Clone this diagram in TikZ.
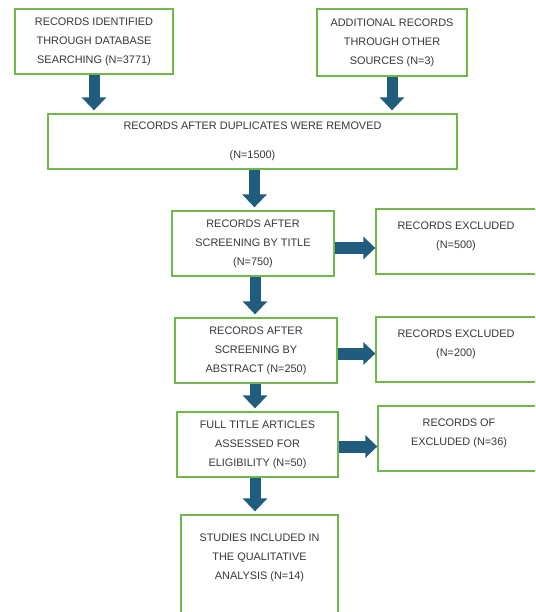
\documentclass[tikz,border=0pt]{standalone}
\usepackage{fontspec}
\setmainfont{Liberation Sans}
\usetikzlibrary{arrows.meta}
\definecolor{boxgreen}{HTML}{70B84A}
\definecolor{arrowblue}{HTML}{1F5C7E}
\definecolor{txtgray}{HTML}{383838}
\tikzset{
  box/.style={draw=boxgreen, line width=1.3pt, fill=white, rectangle, inner sep=0pt,
    align=center, text=txtgray, font=\fontsize{10.9}{19}\selectfont},
  lbl/.style={align=center, text=txtgray, inner sep=0pt, font=\fontsize{10.9}{19}\selectfont},
  downarrow/.style={draw=arrowblue, line width=11pt,
    -{Triangle[width=24pt,length=13pt]}, shorten >=3pt},
  rightarrow/.style={draw=arrowblue, line width=12pt,
    -{Triangle[width=22pt,length=12pt]}},
}
\begin{document}
\begin{tikzpicture}[x=1pt,y=-1pt]
\path[use as bounding box, clip] (0,0) rectangle (535,612);
\fill[white] (0,0) rectangle (535,612);

\node[box, minimum width=158pt, minimum height=65pt] (b1) at (94,41.5)
  {RECORDS IDENTIFIED\\THROUGH DATABASE\\SEARCHING (N=3771)};
\node[box, minimum width=150pt, minimum height=67pt] (b2) at (392,42.5)
  {ADDITIONAL RECORDS\\THROUGH OTHER\\SOURCES (N=3)};
\node[box, minimum width=409pt, minimum height=55pt] (b3) at (252.5,141.5)
  {RECORDS AFTER DUPLICATES WERE REMOVED\\[10pt](N=1500)};
\node[box, minimum width=162pt, minimum height=65pt] (b4) at (253,243.5)
  {RECORDS AFTER\\SCREENING BY TITLE\\(N=750)};
\node[box, minimum width=169pt, minimum height=65pt] (e1) at (460.5,241.5) {};
\node[lbl] (e1t) at (456,236) {RECORDS EXCLUDED\\(N=500)};
\node[box, minimum width=162pt, minimum height=65pt] (b5) at (256,350.5)
  {RECORDS AFTER\\SCREENING BY\\ABSTRACT (N=250)};
\node[box, minimum width=169pt, minimum height=65pt] (e2) at (460.5,349.5) {};
\node[lbl] (e2t) at (456,344) {RECORDS EXCLUDED\\(N=200)};
\node[box, minimum width=161pt, minimum height=65pt] (b6) at (257.5,444.5)
  {FULL TITLE ARTICLES\\ASSESSED FOR\\ELIGIBILITY (N=50)};
\node[box, minimum width=167pt, minimum height=65pt] (e3) at (461.5,438.5) {};
\node[lbl] (e3t) at (459,433) {RECORDS OF\\EXCLUDED (N=36)};
\node[box, minimum width=157pt, minimum height=105pt] (b7) at (259.5,567.5) {};
\node[lbl] (b7t) at (259.5,558) {STUDIES INCLUDED IN\\THE QUALITATIVE\\ANALYSIS (N=14)};

% down arrows
\draw[downarrow] (b1.south) -- (b1.south |- b3.north);
\draw[downarrow] (b2.south) -- (b2.south |- b3.north);
\draw[downarrow] ([xshift=2pt]b3.south) -- ([xshift=2pt]b3.south |- b4.north);
\draw[downarrow] ([xshift=2pt]b4.south) -- ([xshift=2pt]b4.south |- b5.north);
\draw[downarrow] ([xshift=-1pt]b5.south) -- ([xshift=-1pt]b5.south |- b6.north);
\draw[downarrow] ([xshift=-2.5pt]b6.south) -- ([xshift=-2.5pt]b6.south |- b7.north);

% right arrows
\draw[rightarrow] ([yshift=-4.5pt]b4.east) -- ([yshift=-4.5pt]b4.east -| e1.west);
\draw[rightarrow] ([yshift=-3pt]b5.east) -- ([yshift=-3pt]b5.east -| e2.west);
\draw[rightarrow] ([yshift=-2pt]b6.east) -- ([yshift=-2pt]b6.east -| e3.west);
\end{tikzpicture}
\end{document}
